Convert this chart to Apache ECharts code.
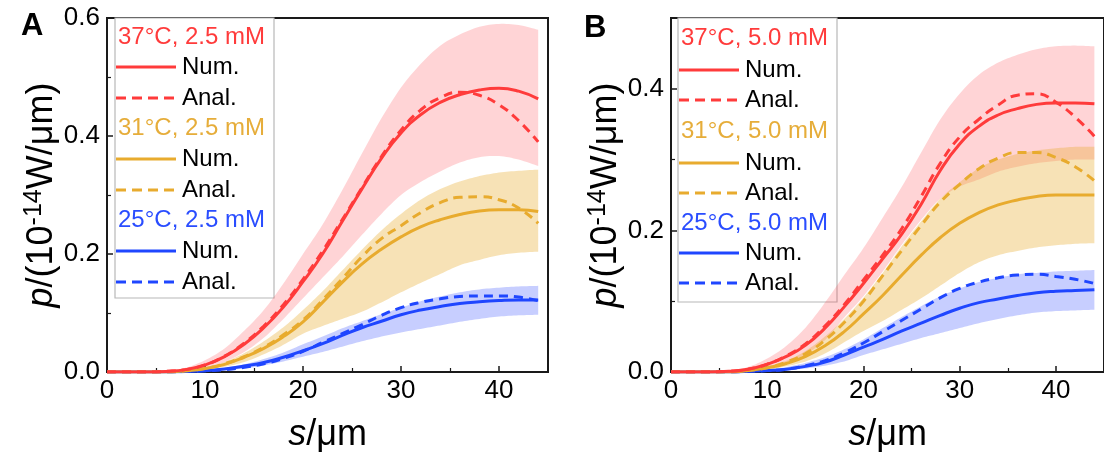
<!DOCTYPE html>
<html>
<head>
<meta charset="utf-8">
<script src="https://cdn.jsdelivr.net/npm/echarts@6/dist/echarts.min.js"></script>
<style>
  html, body { margin: 0; padding: 0; background: #fff; }
  #chart { width: 1104px; height: 461px; }
</style>
</head>
<body>
<div id="chart"></div>
<script>
// Emitted power p versus distance s, numerical and analytical results
const s = [0,2,4,6,8,10,12,14,16,18,20,22,24,26,28,30,32,34,36,38,40,42,44];

// Panel A: 2.5 mM
const redNumA   = [0,0,0,0.001,0.004,0.012,0.026,0.047,0.075,0.11,0.153,0.2,0.255,0.31,0.362,0.405,0.436,0.457,0.47,0.478,0.481,0.476,0.463];
const redAnalA  = [0,0,0,0.001,0.004,0.012,0.027,0.049,0.078,0.114,0.157,0.205,0.258,0.312,0.365,0.41,0.444,0.465,0.474,0.469,0.453,0.426,0.39];
const redLoA    = [0,0,0,0,0.002,0.007,0.017,0.034,0.058,0.09,0.125,0.16,0.195,0.232,0.268,0.3,0.322,0.34,0.355,0.364,0.366,0.36,0.349];
const redHiA    = [0,0,0,0.002,0.007,0.02,0.04,0.07,0.105,0.15,0.2,0.25,0.308,0.37,0.43,0.482,0.522,0.553,0.572,0.585,0.59,0.588,0.58];
const goldNumA  = [0,0,0,0,0.002,0.006,0.013,0.025,0.04,0.06,0.085,0.118,0.152,0.183,0.208,0.229,0.246,0.258,0.267,0.273,0.275,0.275,0.272];
const goldAnalA = [0,0,0,0,0.002,0.006,0.014,0.026,0.042,0.063,0.088,0.122,0.158,0.195,0.226,0.248,0.27,0.287,0.296,0.297,0.292,0.278,0.252];
const goldLoA   = [0,0,0,0,0.001,0.004,0.009,0.017,0.03,0.046,0.065,0.078,0.09,0.102,0.118,0.135,0.151,0.166,0.181,0.19,0.198,0.202,0.204];
const goldHiA   = [0,0,0,0.001,0.003,0.008,0.017,0.032,0.052,0.076,0.105,0.137,0.172,0.207,0.24,0.268,0.292,0.31,0.323,0.332,0.338,0.341,0.343];
const blueNumA  = [0,0,0,0,0.001,0.002,0.005,0.01,0.016,0.025,0.036,0.048,0.062,0.075,0.086,0.097,0.105,0.111,0.116,0.119,0.121,0.122,0.122];
const blueAnalA = [0,0,0,0,0.001,0.002,0.004,0.008,0.014,0.023,0.035,0.05,0.065,0.08,0.096,0.109,0.118,0.124,0.128,0.129,0.129,0.127,0.121];
const blueLoA   = [0,0,0,0,0,0.001,0.003,0.006,0.011,0.018,0.026,0.034,0.043,0.052,0.06,0.067,0.073,0.079,0.085,0.09,0.094,0.096,0.097];
const blueHiA   = [0,0,0,0,0.001,0.003,0.007,0.013,0.022,0.033,0.047,0.06,0.074,0.086,0.098,0.109,0.12,0.128,0.135,0.14,0.143,0.145,0.146];

// Panel B: 5.0 mM
const redNumB   = [0,0,0,0.001,0.004,0.011,0.022,0.038,0.062,0.092,0.125,0.16,0.195,0.237,0.285,0.322,0.347,0.363,0.372,0.378,0.38,0.38,0.379];
const redAnalB  = [0,0,0,0.001,0.004,0.011,0.023,0.04,0.065,0.095,0.13,0.165,0.203,0.248,0.295,0.332,0.357,0.377,0.391,0.393,0.381,0.36,0.333];
const redLoB    = [0,0,0,0,0.002,0.006,0.013,0.025,0.045,0.077,0.107,0.142,0.18,0.215,0.245,0.262,0.272,0.283,0.29,0.295,0.298,0.3,0.3];
const redHiB    = [0,0,0,0.002,0.007,0.019,0.037,0.063,0.098,0.137,0.175,0.218,0.262,0.31,0.357,0.393,0.42,0.437,0.448,0.456,0.46,0.461,0.46];
const goldNumB  = [0,0,0,0,0.002,0.006,0.012,0.022,0.037,0.057,0.082,0.108,0.137,0.165,0.19,0.21,0.225,0.236,0.243,0.248,0.25,0.25,0.25];
const goldAnalB = [0,0,0,0,0.002,0.006,0.014,0.026,0.045,0.07,0.1,0.136,0.172,0.207,0.24,0.265,0.287,0.302,0.31,0.31,0.303,0.29,0.27];
const goldLoB   = [0,0,0,0,0.001,0.003,0.008,0.015,0.026,0.042,0.058,0.072,0.088,0.104,0.122,0.14,0.155,0.165,0.171,0.176,0.179,0.181,0.182];
const goldHiB   = [0,0,0,0.001,0.003,0.008,0.016,0.03,0.05,0.075,0.105,0.14,0.178,0.213,0.245,0.268,0.288,0.3,0.308,0.313,0.316,0.318,0.318];
const blueNumB  = [0,0,0,0,0.001,0.002,0.004,0.008,0.014,0.024,0.035,0.046,0.058,0.069,0.08,0.09,0.098,0.103,0.108,0.112,0.114,0.115,0.116];
const blueAnalB = [0,0,0,0,0.001,0.002,0.004,0.009,0.016,0.027,0.041,0.057,0.073,0.089,0.105,0.118,0.127,0.133,0.137,0.138,0.135,0.131,0.125];
const blueLoB   = [0,0,0,0,0,0.001,0.002,0.005,0.009,0.015,0.024,0.032,0.04,0.048,0.055,0.062,0.069,0.075,0.08,0.084,0.086,0.087,0.088];
const blueHiB   = [0,0,0,0,0.001,0.003,0.007,0.013,0.021,0.032,0.046,0.062,0.078,0.093,0.107,0.118,0.127,0.133,0.138,0.14,0.142,0.143,0.144];

const conditionsA = ['37°C, 2.5 mM', '31°C, 2.5 mM', '25°C, 2.5 mM'];
const conditionsB = ['37°C, 5.0 mM', '31°C, 5.0 mM', '25°C, 5.0 mM'];
const yTicksA = { max: 0.6, interval: 0.2 };
const yTicksB = { max: 0.5, interval: 0.2 };

const FONT = "'Liberation Sans', Arial, sans-serif";
const RED = '#ff3b3b', GOLD = '#e8ab2e', BLUE = '#1f46ff';
const RED_T = '#ff3b3b', GOLD_T = '#e6ad3a', BLUE_T = '#2a4dff';
const BAND = {
  red: 'rgba(255,50,60,0.21)',
  gold: 'rgba(232,170,40,0.34)',
  blue: 'rgba(30,60,255,0.25)'
};
// Drawing order of the curves: blue lowest, red on top
const LAYER = { blue: 3, gold: 5, red: 7 };

const pairs = (ys) => s.map((x, i) => [x, ys[i]]);

// Catmull-Rom smoothing of projected pixel points (rendering only)
function smoothPixels(pts, steps) {
  const out = [pts[0]];
  for (let i = 0; i < pts.length - 1; i++) {
    const p0 = pts[i - 1] || pts[i], p1 = pts[i], p2 = pts[i + 1], p3 = pts[i + 2] || pts[i + 1];
    for (let k = 1; k <= steps; k++) {
      const t = k / steps, t2 = t * t, t3 = t2 * t;
      const f = (a, b, c, d) => 0.5 * (2 * b + (-a + c) * t + (2 * a - 5 * b + 4 * c - d) * t2 + (-a + 3 * b - 3 * c + d) * t3);
      out.push([f(p0[0], p1[0], p2[0], p3[0]), f(p0[1], p1[1], p2[1], p3[1])]);
    }
  }
  return out;
}

// Shaded spread between lower and upper estimates, drawn as one polygon
function band(idx, key, lo, hi) {
  return {
    type: 'custom', xAxisIndex: idx, yAxisIndex: idx, silent: true, z: 1,
    data: s.map((x, i) => [x, lo[i], hi[i]]),
    encode: { x: 0, y: [1, 2] },
    renderItem: (params, api) => {
      if (params.dataIndex !== 0) return null;
      const top = smoothPixels(s.map((x, i) => api.coord([x, hi[i]])), 8);
      const bottom = smoothPixels(s.map((x, i) => api.coord([x, lo[i]])), 8).reverse();
      return {
        type: 'polygon', shape: { points: top.concat(bottom) },
        style: { fill: BAND[key], stroke: 'none' }
      };
    }
  };
}

function curve(idx, ys, key, color, dashed) {
  return {
    type: 'line', xAxisIndex: idx, yAxisIndex: idx, data: pairs(ys),
    symbol: 'none', smooth: true, z: LAYER[key] + (dashed ? 0 : 1),
    lineStyle: { color, width: 3, type: dashed ? [9, 6] : 'solid', cap: 'butt' }
  };
}

const series = [
  band(0, 'red', redLoA, redHiA),
  band(0, 'gold', goldLoA, goldHiA),
  band(0, 'blue', blueLoA, blueHiA),
  curve(0, redAnalA, 'red', RED, true), curve(0, redNumA, 'red', RED, false),
  curve(0, goldAnalA, 'gold', GOLD, true), curve(0, goldNumA, 'gold', GOLD, false),
  curve(0, blueAnalA, 'blue', BLUE, true), curve(0, blueNumA, 'blue', BLUE, false),
  band(1, 'red', redLoB, redHiB),
  band(1, 'gold', goldLoB, goldHiB),
  band(1, 'blue', blueLoB, blueHiB),
  curve(1, redAnalB, 'red', RED, true), curve(1, redNumB, 'red', RED, false),
  curve(1, goldAnalB, 'gold', GOLD, true), curve(1, goldNumB, 'gold', GOLD, false),
  curve(1, blueAnalB, 'blue', BLUE, true), curve(1, blueNumB, 'blue', BLUE, false)
];

const AXIS_COLOR = '#1a1a1a';
function xAxis(idx) {
  return {
    type: 'value', gridIndex: idx, min: 0, max: 45, interval: 10,
    name: '{i|s}/μm', nameLocation: 'middle', nameGap: 45,
    nameTextStyle: { fontFamily: FONT, fontSize: 36, color: '#000',
      rich: { i: { fontFamily: FONT, fontSize: 36, fontStyle: 'italic', color: '#000' } } },
    axisLine: { show: true, lineStyle: { color: AXIS_COLOR, width: 2 } },
    axisTick: { show: true, inside: true, length: 6, lineStyle: { color: AXIS_COLOR, width: 1.5 } },
    minorTick: { show: true, splitNumber: 2, length: 4, lineStyle: { color: AXIS_COLOR, width: 1.2 } },
    axisLabel: { fontFamily: FONT, fontSize: 26, color: '#000', margin: 6, showMaxLabel: false },
    splitLine: { show: false }
  };
}
function yAxis(idx, t) {
  return {
    type: 'value', gridIndex: idx, min: 0, max: t.max, interval: t.interval,
    name: '{i|p}/(10{sup|-14}W/μm)', nameLocation: 'middle', nameGap: 39, nameRotate: 90,
    nameTextStyle: { fontFamily: FONT, fontSize: 36, color: '#000',
      rich: {
        i: { fontFamily: FONT, fontSize: 36, fontStyle: 'italic', color: '#000' },
        sup: { fontFamily: FONT, fontSize: 25, color: '#000', padding: [0, 0, 16, 0] }
      } },
    axisLine: { show: true, lineStyle: { color: AXIS_COLOR, width: 2 } },
    axisTick: { show: true, inside: true, length: 6, lineStyle: { color: AXIS_COLOR, width: 1.5 } },
    minorTick: { show: true, splitNumber: 2, length: 4, lineStyle: { color: AXIS_COLOR, width: 1.2 } },
    axisLabel: { fontFamily: FONT, fontSize: 26, color: '#000', margin: 7,
      formatter: (v) => v.toFixed(1), showMaxLabel: t.max === 0.6 },
    splitLine: { show: false }
  };
}

// Legend block: header text per condition followed by Num./Anal. line samples
function legend(x0, y0, w, h, titles, lineX, textX, rowY) {
  const colors = [RED, GOLD, BLUE];
  const tcolors = [RED_T, GOLD_T, BLUE_T];
  const children = [{
    type: 'rect', shape: { x: x0, y: y0, width: w, height: h },
    style: { fill: '#fff', stroke: '#b8b8b8', lineWidth: 1.2 }
  }];
  titles.forEach((t, k) => {
    const yH = rowY[k * 3], yN = rowY[k * 3 + 1], yA = rowY[k * 3 + 2];
    children.push({ type: 'text', x: x0 + 3, y: yH,
      style: { text: t, fill: tcolors[k], font: '24px ' + FONT, textVerticalAlign: 'middle' } });
    children.push({ type: 'line', shape: { x1: lineX, y1: yN, x2: lineX + 60, y2: yN },
      style: { stroke: colors[k], lineWidth: 3 } });
    children.push({ type: 'text', x: textX, y: yN,
      style: { text: 'Num.', fill: '#000', font: '24px ' + FONT, textVerticalAlign: 'middle' } });
    children.push({ type: 'line', shape: { x1: lineX, y1: yA, x2: lineX + 60, y2: yA },
      style: { stroke: colors[k], lineWidth: 3, lineDash: [10, 6] } });
    children.push({ type: 'text', x: textX, y: yA,
      style: { text: 'Anal.', fill: '#000', font: '24px ' + FONT, textVerticalAlign: 'middle' } });
  });
  return { type: 'group', z: 10, children };
}

const rowsA = [37, 67, 98, 128, 159, 190, 220, 251, 282];
const rowsB = [38, 70, 100, 131, 163, 193, 223, 253, 283];

const chart = echarts.init(document.getElementById('chart'), null, { renderer: 'canvas' });
chart.setOption({
  animation: false,
  backgroundColor: '#fff',
  grid: [
    { left: 107, right: 556, top: 18, bottom: 89, show: true, borderColor: AXIS_COLOR, borderWidth: 2 },
    { left: 671, right: -8, top: 18, bottom: 89, show: true, borderColor: AXIS_COLOR, borderWidth: 2 }
  ],
  xAxis: [xAxis(0), xAxis(1)],
  yAxis: [yAxis(0, yTicksA), yAxis(1, yTicksB)],
  series,
  graphic: [
    { type: 'text', left: 21, top: 11, style: { text: 'A', fill: '#000', font: 'bold 31px ' + FONT } },
    { type: 'text', left: 584, top: 13, style: { text: 'B', fill: '#000', font: 'bold 31px ' + FONT } },
    legend(115, 18, 159, 280, conditionsA, 116, 182, rowsA),
    legend(678, 18, 159, 284, conditionsB, 679, 745, rowsB)
  ]
});
</script>
</body>
</html>
